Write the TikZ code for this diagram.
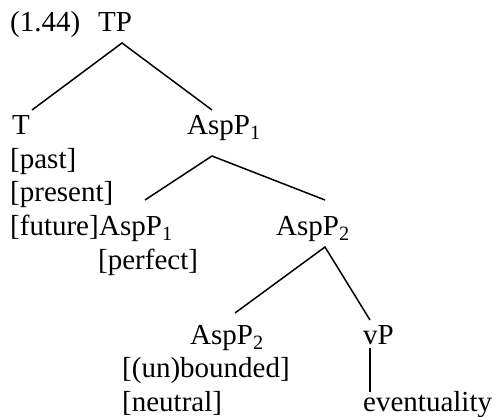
\documentclass[tikz,border=0pt]{standalone}
\usepackage{fontspec}
\setmainfont{Liberation Serif}
\begin{document}
\begin{tikzpicture}[x=1pt,y=-1pt,
    every node/.style={inner sep=0pt,anchor=base west,font=\fontsize{29}{33}\selectfont},
    branch/.style={line width=1.5pt}]
    \useasboundingbox (0,0) rectangle (499,417);
    % labels
    \node (ex) at (10,32) {(1.44)};
    \node (TP) at (98,32) {TP};
    \node (T) at (12,135) {T};
    \node (past) at (10,169) {[past]};
    \node (present) at (10,202) {[present]};
    \node (future) at (10,236) {[future]};
    \node (AspPa) at (187,135) {AspP\textsubscript{1}};
    \node (AspPb) at (future.base east) {AspP\textsubscript{1}};
    \node (perfect) at (98,270) {[perfect]};
    \node (AspPc) at (276,236) {AspP\textsubscript{2}};
    \node (AspPd) at (190,345) {AspP\textsubscript{2}};
    \node (bounded) at (122,378) {[(un)bounded]};
    \node (neutral) at (122,412) {[neutral]};
    \node (vP) at (363,345) {vP};
    \node (event) at (363,412) {eventuality};
    % branch points
    \coordinate (TPa) at (122,43);
    \coordinate (Tt) at (32,110);
    \coordinate (AspPat) at (212,110);
    \coordinate (AspPaa) at (212,156);
    \coordinate (AspPbt) at (145,200);
    \coordinate (AspPct) at (325,200);
    \coordinate (AspPca) at (325,247);
    \coordinate (AspPdt) at (235,313);
    \coordinate (vPt) at (370,320);
    \coordinate (vPa) at (370,348);
    \coordinate (eventt) at (370,392);
    % branches
    \draw[branch] (Tt) -- (TPa) -- (AspPat);
    \draw[branch] (AspPbt) -- (AspPaa) -- (AspPct);
    \draw[branch] (AspPdt) -- (AspPca) -- (vPt);
    \draw[branch] (vPa) -- (eventt);
\end{tikzpicture}
\end{document}
